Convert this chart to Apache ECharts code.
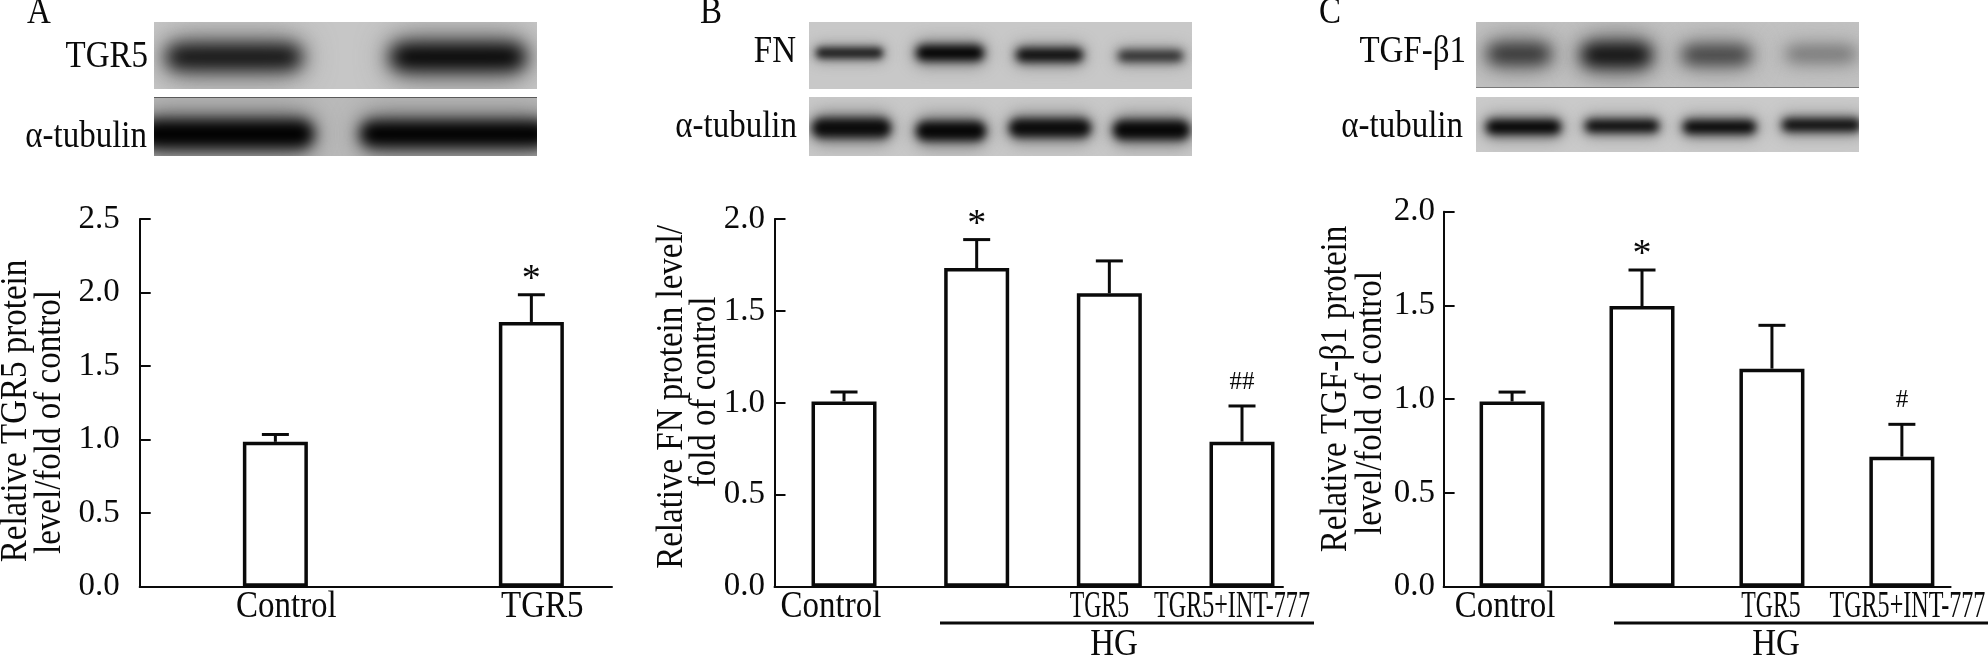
<!DOCTYPE html>
<html>
<head>
<meta charset="utf-8">
<title>TGR5 western blots</title>
<script src="https://cdn.jsdelivr.net/npm/echarts@6/dist/echarts.min.js"></script>
<style>
  html, body { margin: 0; padding: 0; background: #fff; }
  #chart { width: 1988px; height: 656px; }
</style>
</head>
<body>
<div id="chart"></div>
<script>
// values
const catsA = ['Control', 'TGR5']
const valuesA = [0.985, 1.8]
const errTopA = [1.035, 1.985]
const marksA = ['', '*']
const ticksA = [0, 0.5, 1, 1.5, 2, 2.5]

const catsB = ['Control', '', 'TGR5', 'TGR5+INT-777']
const valuesB = [1.008, 1.733, 1.596, 0.789]
const errTopB = [1.059, 1.888, 1.772, 0.983]
const marksB = ['', '*', '', '##']
const ticksB = [0, 0.5, 1, 1.5, 2]

const catsC = ['Control', '', 'TGR5', 'TGR5+INT-777']
const valuesC = [0.988, 1.497, 1.163, 0.693]
const errTopC = [1.038, 1.689, 1.394, 0.866]
const marksC = ['', '*', '', '#']
const ticksC = [0, 0.5, 1, 1.5, 2]

const SERIF = '"Liberation Serif", "Times New Roman", serif'
const INK = '#0a0a0a'
const TALL = 1.13 // the original type is a bit stretched vertically

// layout of each panel, in page pixels
const panels = [
  { cats: catsA, values: valuesA, errTop: errTopA, marks: marksA, ticks: ticksA,
    left: 139.7, right: 612, top: 219, xMin: -0.53, xMax: 1.315, labelMargin: 20,
    labelShift: [11, 11], labelScale: [1, 1] },
  { cats: catsB, values: valuesB, errTop: errTopB, marks: marksB, ticks: ticksB,
    left: 774.5, right: 1283, top: 219, xMin: -0.524, xMax: 3.309, labelMargin: 9.5,
    labelShift: [-13, 0, -10, -10], labelScale: [1, 1, 0.72, 0.73] },
  { cats: catsC, values: valuesC, errTop: errTopC, marks: marksC, ticks: ticksC,
    left: 1443.6, right: 1950.6, top: 211.7, xMin: -0.527, xMax: 3.375, labelMargin: 8.6,
    labelShift: [-7, 0, -1, 5.5], labelScale: [1, 1, 0.72, 0.73] }
]
const AXIS_BOTTOM = 586.7

// blot strips: x, y, w, h, background grey, bands [x0, x1, centre y, height, grey, blur]
const blots = [
  { x: 154, y: 22, w: 383, h: 67, bg: 198, bands: [
    [166, 302, 57, 24, 12, 9], [390, 526, 57, 26, 0, 9] ] },
  { x: 154, y: 97, w: 383, h: 59, bg: 186, line: true, bands: [
    [140, 314, 134, 28, 0, 7], [360, 550, 134, 26, 0, 7] ] },
  { x: 809, y: 22, w: 383, h: 67, bg: 200, bands: [
    [816, 883, 53, 10, 26, 3.5], [916, 984, 53, 15, 2, 4.5], [1016, 1083, 55, 13, 10, 4], [1118, 1183, 56, 10, 36, 4] ] },
  { x: 809, y: 97, w: 383, h: 59, bg: 200, bands: [
    [812, 891, 128, 19, 10, 4], [916, 986, 131, 19, 6, 4.5], [1009, 1091, 128, 18, 10, 4], [1113, 1190, 130, 19, 6, 4] ] },
  { x: 1476, y: 22, w: 383, h: 66, bg: 194, line2: true, bands: [
    [1487, 1551, 54, 20, 48, 8], [1581, 1652, 55, 24, 16, 8], [1682, 1751, 55, 18, 62, 7.5], [1786, 1856, 54, 13, 108, 7.5] ] },
  { x: 1476, y: 97, w: 383, h: 55, bg: 202, bands: [
    [1486, 1561, 127, 14, 2, 4], [1585, 1659, 126, 12, 6, 4], [1683, 1756, 127, 13, 4, 4], [1782, 1861, 125, 12, 8, 4] ] }
]

// blot strip labels: text, right edge, centre y
const blotLabels = [
  ['TGR5', 148, 57], ['\u03b1-tubulin', 147, 137],
  ['FN', 796, 52], ['\u03b1-tubulin', 797, 127],
  ['TGF-\u03b21', 1466, 52], ['\u03b1-tubulin', 1463, 127]
]
const letters = [['A', 39, 13], ['B', 711, 13], ['C', 1330, 13]]
// y titles: text, x, centre y
const yTitles = [
  ['Relative TGR5 protein', 16, 411], ['level/fold of control', 50, 422],
  ['Relative FN protein level/', 672, 397], ['fold of control', 705, 392],
  ['Relative TGF-\u03b21 protein', 1336, 389], ['level/fold of control', 1371, 403]
]
// HG brackets: x0, x1, label x
const hgLines = [[940, 1314, 1114], [1614, 1988, 1776]]

function rgb(v, a) { return 'rgba(' + v + ',' + v + ',' + v + ',' + (a == null ? 1 : a) + ')' }

function blotImage(b) {
  const c = document.createElement('canvas')
  c.width = Math.ceil(b.w)
  c.height = b.h
  const ctx = c.getContext('2d')
  ctx.fillStyle = rgb(b.bg)
  ctx.fillRect(0, 0, c.width, c.height)
  b.bands.forEach(d => {
    const x = d[0] - b.x
    const w = d[1] - d[0]
    const y = d[2] - b.y - d[3] / 2
    const h = d[3]
    // soft halo first, then the dark core
    ctx.filter = 'blur(' + d[5] * 1.8 + 'px)'
    ctx.fillStyle = rgb(Math.round((d[4] + b.bg) / 2), 0.75)
    ctx.beginPath(); ctx.roundRect(x - 3, y - h * 0.35, w + 6, h * 1.7, h); ctx.fill()
    ctx.filter = 'blur(' + d[5] + 'px)'
    ctx.fillStyle = rgb(d[4])
    ctx.beginPath(); ctx.roundRect(x, y, w, h, h / 2); ctx.fill()
  })
  ctx.filter = 'none'
  if (b.line) { ctx.fillStyle = rgb(90); ctx.fillRect(0, 0, c.width, 1) }
  if (b.line2) { ctx.fillStyle = rgb(120); ctx.fillRect(0, c.height - 1, c.width, 1) }
  return c
}

function textEl(text, x, y, extra) {
  return Object.assign({
    type: 'text', x: x, y: y, scaleY: TALL, silent: true,
    style: { text: text, fontSize: 33, fontFamily: SERIF, fill: INK, align: 'center', verticalAlign: 'middle' }
  }, extra || {})
}

const graphicEls = []
blots.forEach(b => {
  graphicEls.push({ type: 'image', x: b.x, y: b.y, silent: true,
    style: { image: blotImage(b), width: Math.ceil(b.w), height: b.h } })
})
blotLabels.forEach(l => {
  const el = textEl(l[0], l[1], l[2])
  el.style.align = 'right'
  graphicEls.push(el)
})
letters.forEach(l => graphicEls.push(textEl(l[0], l[1], l[2])))
yTitles.forEach(t => graphicEls.push(textEl(t[0], t[1], t[2], { rotation: Math.PI / 2 })))
hgLines.forEach(h => {
  graphicEls.push({ type: 'line', silent: true,
    shape: { x1: h[0], y1: 623, x2: h[1], y2: 623 }, style: { stroke: INK, lineWidth: 3 } })
  graphicEls.push(textEl('HG', h[2], 645))
})

const grid = [], xAxis = [], yAxis = [], series = []
panels.forEach((p, k) => {
  const tickStep = p.ticks[1] - p.ticks[0]
  grid.push({ left: p.left, top: p.top, width: p.right - p.left, height: AXIS_BOTTOM - p.top })
  xAxis.push({
    gridIndex: k, type: 'value', min: p.xMin, max: p.xMax,
    splitLine: { show: false }, axisTick: { show: false }, axisLabel: { show: false },
    axisLine: { show: true, onZero: false, lineStyle: { color: INK, width: 2 } }
  })
  yAxis.push({
    gridIndex: k, type: 'value', min: p.ticks[0], max: p.ticks[p.ticks.length - 1], interval: tickStep,
    splitLine: { show: false },
    axisLine: { show: true, onZero: false, lineStyle: { color: INK, width: 2 } },
    axisTick: { show: true, inside: true, length: 11, lineStyle: { color: INK, width: 2 } },
    axisLabel: { color: INK, fontFamily: SERIF, fontSize: 33, margin: p.labelMargin, padding: [5, 0, 0, 0],
      formatter: v => v.toFixed(1) }
  })
  // bars
  series.push({
    type: 'bar', xAxisIndex: k, yAxisIndex: k, barWidth: 65, silent: true,
    itemStyle: { color: '#fff', borderColor: INK, borderWidth: 3.5 },
    data: p.values.map((v, i) => [i, v])
  })
  // error bars with their caps and significance marks
  series.push({
    type: 'custom', xAxisIndex: k, yAxisIndex: k, silent: true, z: 5,
    data: p.values.map((v, i) => [i, v, p.errTop[i]]),
    renderItem: (params, api) => {
      const i = api.value(0)
      const base = api.coord([i, api.value(1)])
      const top = api.coord([i, api.value(2)])
      const line = { stroke: INK, lineWidth: 3 }
      const children = [
        { type: 'line', shape: { x1: base[0], y1: base[1], x2: top[0], y2: top[1] }, style: line },
        { type: 'line', shape: { x1: top[0] - 13.5, y1: top[1], x2: top[0] + 13.5, y2: top[1] }, style: line }
      ]
      const mark = p.marks[i]
      if (mark) {
        const star = mark === '*'
        children.push({
          type: 'text', x: top[0], y: top[1] - (star ? 15 : 24),
          style: { text: mark, fontFamily: SERIF, fontSize: star ? 38 : 25, fill: INK,
            align: 'center', verticalAlign: 'middle' }
        })
      }
      return { type: 'group', children: children }
    }
  })
  // category labels sit a little off the bars in the original, some squeezed
  series.push({
    type: 'custom', xAxisIndex: k, yAxisIndex: k, silent: true, z: 5,
    data: p.cats.map((c, i) => [i, 0]),
    renderItem: (params, api) => {
      const i = api.value(0)
      const pos = api.coord([i, 0])
      return {
        type: 'text', x: pos[0] + p.labelShift[i], y: pos[1] + 21, scaleX: p.labelScale[i], scaleY: TALL,
        style: { text: p.cats[i], fontFamily: SERIF, fontSize: 33, fill: INK,
          align: 'center', verticalAlign: 'middle' }
      }
    }
  })
})

const chart = echarts.init(document.getElementById('chart'), null, { renderer: 'canvas' })
chart.setOption({
  animation: false,
  backgroundColor: '#fff',
  grid: grid,
  xAxis: xAxis,
  yAxis: yAxis,
  series: series,
  graphic: { elements: graphicEls }
})
</script>
</body>
</html>
